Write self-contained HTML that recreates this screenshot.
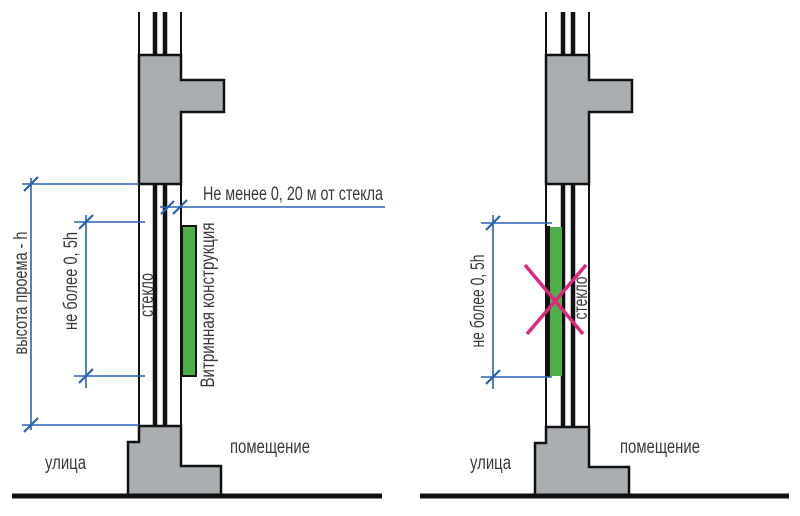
<!DOCTYPE html>
<html><head><meta charset="utf-8"><style>
html,body{margin:0;padding:0;background:#fff;}
svg{display:block;}
text{font-family:"Liberation Sans Narrow","Liberation Sans",sans-serif;fill:#3a3a3a;}
</style></head><body>
<svg width="800" height="516" viewBox="0 0 800 516" xmlns="http://www.w3.org/2000/svg">
<!-- LEFT -->
<g stroke="#111" fill="none">
  <line x1="139" y1="12" x2="139" y2="426" stroke-width="2"/>
  <line x1="181" y1="12" x2="181" y2="426" stroke-width="2"/>
  <line x1="155" y1="12" x2="155" y2="426" stroke-width="4.5"/>
  <line x1="165" y1="12" x2="165" y2="426" stroke-width="4.5"/>
  <path d="M139 55 H181 V80 H224 V112 H181 V184 H139 Z" fill="#acadb0" stroke-width="2.5"/>
  <path d="M139 426 H181 V466 H221 V495 H128 V442 H139 Z" fill="#acadb0" stroke-width="2.5"/>
  <line x1="12" y1="496" x2="382" y2="496" stroke-width="5"/>
</g>
<rect x="182" y="226" width="14" height="150" fill="#4caf48" stroke="#111" stroke-width="2"/>
<g stroke="#2a62b0" stroke-width="1.6" fill="none">
  <line x1="22" y1="184" x2="139" y2="184"/>
  <line x1="31" y1="178" x2="31" y2="430"/>
  <line x1="22" y1="425" x2="139" y2="425"/>
  <line x1="74" y1="222" x2="145" y2="222"/>
  <line x1="86" y1="215" x2="86" y2="388"/>
  <line x1="74" y1="376" x2="145" y2="376"/>
  <line x1="160" y1="207" x2="385" y2="207"/>
  <g stroke-width="2.2">
  <line x1="24" y1="191" x2="38" y2="177"/>
  <line x1="24" y1="432" x2="38" y2="418"/>
  <line x1="79" y1="229" x2="93" y2="215"/>
  <line x1="79" y1="383" x2="93" y2="369"/>
  <line x1="161" y1="214" x2="174" y2="201"/>
  <line x1="173" y1="214" x2="187" y2="200"/>
  </g>
</g>
<text x="203" y="200" font-size="19" textLength="180" lengthAdjust="spacingAndGlyphs">Не менее 0, 20 м от стекла</text>
<text transform="translate(27,293) rotate(-90)" text-anchor="middle" font-size="19" textLength="123" lengthAdjust="spacingAndGlyphs">высота проема - h</text>
<text transform="translate(77,281) rotate(-90)" text-anchor="middle" font-size="19" textLength="98" lengthAdjust="spacingAndGlyphs">не более 0, 5h</text>
<text transform="translate(153,295) rotate(-90)" text-anchor="middle" font-size="19" textLength="44" lengthAdjust="spacingAndGlyphs">стекло</text>
<text transform="translate(214,305) rotate(-90)" text-anchor="middle" font-size="19" textLength="165" lengthAdjust="spacingAndGlyphs">Витринная конструкция</text>
<text x="45" y="469" font-size="19" textLength="41" lengthAdjust="spacingAndGlyphs">улица</text>
<text x="230" y="453" font-size="19" textLength="80" lengthAdjust="spacingAndGlyphs">помещение</text>

<!-- RIGHT -->
<g stroke="#111" fill="none">
  <line x1="546" y1="12" x2="546" y2="427" stroke-width="2"/>
  <line x1="589" y1="12" x2="589" y2="427" stroke-width="2"/>
  <line x1="563" y1="12" x2="563" y2="427" stroke-width="4.5"/>
  <line x1="573" y1="12" x2="573" y2="427" stroke-width="4.5"/>
  <path d="M546 55 H589 V80 H632 V112 H589 V184 H546 Z" fill="#acadb0" stroke-width="2.5"/>
  <path d="M546 427 H589 V467 H629 V495 H535 V443 H546 Z" fill="#acadb0" stroke-width="2.5"/>
  <line x1="420" y1="496" x2="789" y2="496" stroke-width="5"/>
</g>
<rect x="546" y="226" width="4" height="151" fill="#111"/>
<rect x="550" y="227" width="12" height="149" fill="#4caf48"/>
<g stroke="#2a62b0" stroke-width="1.6" fill="none">
  <line x1="481" y1="223" x2="552" y2="223"/>
  <line x1="493" y1="215" x2="493" y2="389"/>
  <line x1="481" y1="377" x2="552" y2="377"/>
  <g stroke-width="2.2">
  <line x1="486" y1="230" x2="500" y2="216"/>
  <line x1="486" y1="384" x2="500" y2="370"/>
  </g>
</g>
<g stroke="#e0267e" stroke-width="3.5">
  <line x1="525" y1="265" x2="583" y2="334"/>
  <line x1="586" y1="265" x2="527" y2="334"/>
</g>
<text transform="translate(587,298) rotate(-90)" text-anchor="middle" font-size="19" textLength="43" lengthAdjust="spacingAndGlyphs">стекло</text>
<text transform="translate(484,301) rotate(-90)" text-anchor="middle" font-size="19" textLength="93" lengthAdjust="spacingAndGlyphs">не более 0, 5h</text>
<text x="470" y="469" font-size="19" textLength="41" lengthAdjust="spacingAndGlyphs">улица</text>
<text x="620" y="453" font-size="19" textLength="80" lengthAdjust="spacingAndGlyphs">помещение</text>
</svg>
</body></html>
